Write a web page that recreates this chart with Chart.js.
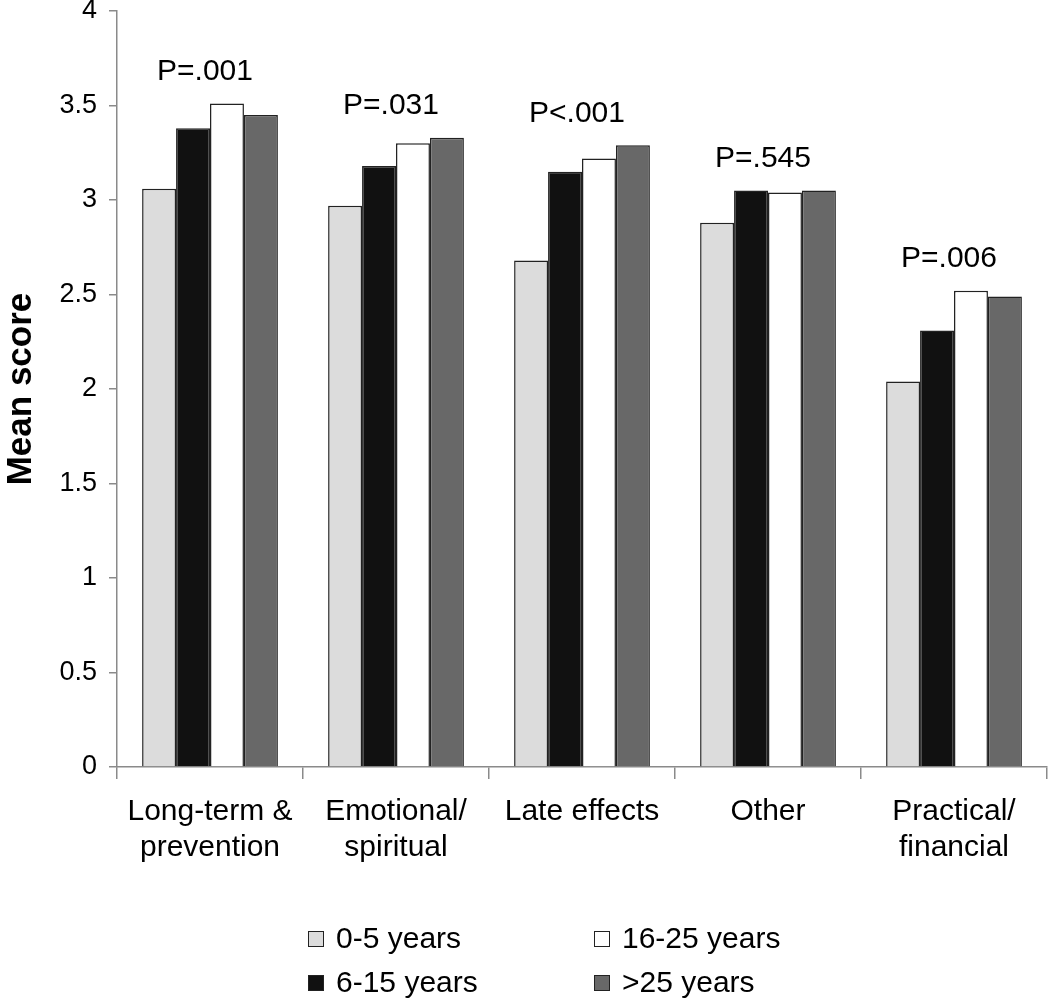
<!DOCTYPE html>
<html>
<head>
<meta charset="utf-8">
<script src="https://cdn.jsdelivr.net/npm/chart.js@4"></script>
<style>
  html, body { margin: 0; padding: 0; background: #fff; }
  #wrap { width: 1050px; height: 1002px; position: relative; }
</style>
</head>
<body>
<div id="wrap"><canvas id="chart" width="1050" height="1002"></canvas></div>
<script>
// DATA
const categories = [["Long-term &", "prevention"], ["Emotional/", "spiritual"], "Late effects", "Other", ["Practical/", "financial"]];
const years0to5   = [3.06, 2.97, 2.68, 2.88, 2.04];
const years6to15  = [3.38, 3.18, 3.15, 3.05, 2.31];
const years16to25 = [3.51, 3.30, 3.22, 3.04, 2.52];
const yearsOver25 = [3.45, 3.33, 3.29, 3.05, 2.49];
const pLabels = ["P=.001", "P=.031", "P<.001", "P=.545", "P=.006"];
const seriesNames = ["0-5 years", "6-15 years", "16-25 years", ">25 years"];

// Limites eixo Y
const Y_MIN = 0;
const Y_MAX = 4;
const Y_STEP = 0.5;

const FONT = "'Liberation Sans', Arial, Helvetica, sans-serif";
const AXIS_GRAY = "#8a8a8a";
const EDGE = "#222";

const fills = ["#dcdcdc", "#111111", "#ffffff", "#686868"];
const seriesData = [years0to5, years6to15, years16to25, yearsOver25];

// P-values above each group
const pLabelPlugin = {
    id: "pLabels",
    afterDatasetsDraw(chart) {
        const { ctx, scales: { x, y } } = chart;
        ctx.save();
        ctx.font = "30px " + FONT;
        ctx.fillStyle = "#000";
        ctx.textAlign = "center";
        ctx.textBaseline = "alphabetic";
        pLabels.forEach((txt, i) => {
            const top = Math.max(...seriesData.map(s => s[i]));
            ctx.fillText(txt, x.getPixelForValue(i) - 5, y.getPixelForValue(top + 0.125));
        });
        ctx.restore();
    }
};

// legenda 2x2 (column-major)
const legendPlugin = {
    id: "legend2x2",
    afterDraw(chart) {
        const ctx = chart.ctx;
        const cols = [308, 594];
        const rows = [939, 983];
        const box = 16;
        ctx.save();
        ctx.font = "30px " + FONT;
        ctx.textBaseline = "middle";
        ctx.textAlign = "left";
        chart.data.datasets.forEach((ds, i) => {
            const cx = cols[Math.floor(i / 2)];
            const cy = rows[i % 2];
            ctx.fillStyle = ds.backgroundColor;
            ctx.fillRect(cx, cy - box / 2, box, box);
            ctx.lineWidth = 1;
            ctx.strokeStyle = EDGE;
            ctx.strokeRect(cx + 0.5, cy - box / 2 + 0.5, box - 1, box - 1);
            ctx.fillStyle = "#000";
            ctx.fillText(ds.label, cx + box + 12, cy + 1);
        });
        ctx.restore();
    }
};

const datasets = seriesData.map((values, i) => ({
    label: seriesNames[i],
    data: values,
    backgroundColor: fills[i],
    borderColor: EDGE,
    borderWidth: 1.5,
    categoryPercentage: 0.73,
    barPercentage: 1.0
}));

new Chart(document.getElementById("chart"), {
    type: "bar",
    data: { labels: categories, datasets },
    options: {
        responsive: false,
        animation: false,
        layout: { padding: { top: 11, right: 3, bottom: 0, left: 0 } },
        plugins: {
            legend: { display: false },
            tooltip: { enabled: false }
        },
        scales: {
            x: {
                grid: {
                    display: true,
                    offset: true,
                    drawOnChartArea: false,
                    drawTicks: true,
                    tickLength: 12,
                    color: AXIS_GRAY,
                    lineWidth: 1.5
                },
                border: { display: true, color: AXIS_GRAY, width: 1.5 },
                ticks: {
                    color: "#000",
                    font: { family: FONT, size: 30, lineHeight: 1.2 },
                    padding: 15,
                    maxRotation: 0,
                    autoSkip: false
                },
                afterFit: s => { s.height = 1002 - 767; }
            },
            y: {
                min: Y_MIN,
                max: Y_MAX,
                ticks: {
                    stepSize: Y_STEP,
                    color: "#000",
                    font: { family: FONT, size: 27 },
                    padding: 12,
                    callback: v => String(v)
                },
                grid: {
                    display: true,
                    drawOnChartArea: false,
                    drawTicks: true,
                    tickLength: 8,
                    color: AXIS_GRAY,
                    lineWidth: 1.5
                },
                border: { display: true, color: AXIS_GRAY, width: 1.5 },
                title: {
                    display: true,
                    text: "Mean score",
                    color: "#000",
                    font: { family: FONT, size: 35, weight: "bold" },
                    padding: { top: 0, bottom: 0 }
                },
                afterFit: s => {
                    s.width = 117;
                    s.paddingTop = 0;   // o "4" pode encostar no topo
                }
            }
        }
    },
    plugins: [pLabelPlugin, legendPlugin]
});
</script>
</body>
</html>
